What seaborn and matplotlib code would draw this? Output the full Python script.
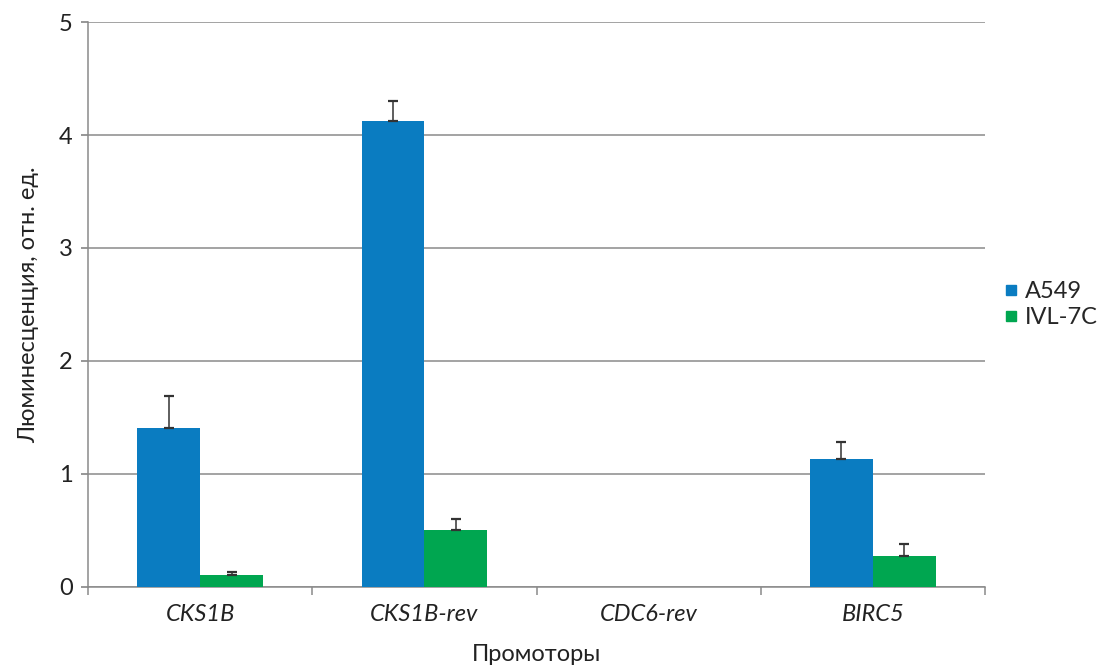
import numpy as np
import pandas as pd
import seaborn as sns
import matplotlib.pyplot as plt
from matplotlib.lines import Line2D

# values
promoters = ["CKS1B", "CKS1B-rev", "CDC6-rev", "BIRC5"]
lines = ["A549", "IVL-7C"]
a549 = [1.41, 4.12, 0.0, 1.13]
a549_err = [0.28, 0.18, 0.0, 0.15]
ivl7c = [0.11, 0.50, 0.0, 0.27]
ivl7c_err = [0.02, 0.10, 0.0, 0.11]

colors = {"A549": "#0A7CC1", "IVL-7C": "#00A650"}

df = pd.DataFrame({
    "Promoter": promoters * 2,
    "Line": ["A549"] * 4 + ["IVL-7C"] * 4,
    "Value": a549 + ivl7c,
    "Err": a549_err + ivl7c_err,
})

sns.set_theme(style="white")
plt.rcParams["font.family"] = ["Lato", "DejaVu Sans"]

fig = plt.figure(figsize=(11.06, 6.67), dpi=100)
ax = fig.add_axes([0.0796, 0.12, 0.811, 0.847])

sns.barplot(data=df, x="Promoter", y="Value", hue="Line", order=promoters,
            hue_order=lines, palette=colors, width=0.56, errorbar=None,
            saturation=1, linewidth=0, ax=ax, legend=False, zorder=3)

# upper-only error bars from the bar patches
for line, cont in zip(lines, ax.containers):
    sub = df[df["Line"] == line].set_index("Promoter").loc[promoters]
    xs = [p.get_x() + p.get_width() / 2 for p in cont.patches]
    mask = sub["Value"].values > 0
    ax.errorbar(np.array(xs)[mask], sub["Value"].values[mask],
                yerr=[np.zeros(mask.sum()), sub["Err"].values[mask]],
                fmt="none", ecolor="#333333", elinewidth=1.1, capsize=3.5,
                capthick=1.6, zorder=4)

ax.set_ylim(0, 5)
ax.set_xlim(-0.5, 3.5)
ax.set_yticks([0, 1, 2, 3, 4, 5])
ax.yaxis.grid(True, color="#8a8a8a", linewidth=1.1, zorder=0)
ax.set_axisbelow(True)

for side in ["top", "right"]:
    ax.spines[side].set_visible(False)
for side in ["left", "bottom"]:
    ax.spines[side].set_color("#8a8a8a")
    ax.spines[side].set_linewidth(1.1)

ax.tick_params(axis="y", left=True, length=5, color="#8a8a8a", labelsize=17,
               pad=6, labelcolor="#222222")
ax.tick_params(axis="x", which="major", length=0, labelsize=17, pad=12,
               labelcolor="#222222")
ax.set_xticks([-0.5, 0.5, 1.5, 2.5, 3.5], minor=True)
ax.tick_params(axis="x", which="minor", bottom=True, length=6,
               color="#8a8a8a", width=1.1)
for lbl in ax.get_xticklabels():
    lbl.set_fontstyle("italic")

ax.set_xlabel("Промоторы", fontsize=17, color="#222222", labelpad=14)
ax.set_ylabel("Люминесценция, отн. ед.", fontsize=17, color="#222222",
              labelpad=14)

handles = [Line2D([0], [0], marker="s", linestyle="none", markersize=7,
                  markerfacecolor=colors[l], markeredgecolor=colors[l])
           for l in lines]
ax.legend(handles, lines, loc="center left", bbox_to_anchor=(1.005, 0.5),
          frameon=False, fontsize=17, handletextpad=0.1, labelspacing=0.2,
          handlelength=1.0, borderaxespad=0)

fig.savefig("out.png", dpi=100)
